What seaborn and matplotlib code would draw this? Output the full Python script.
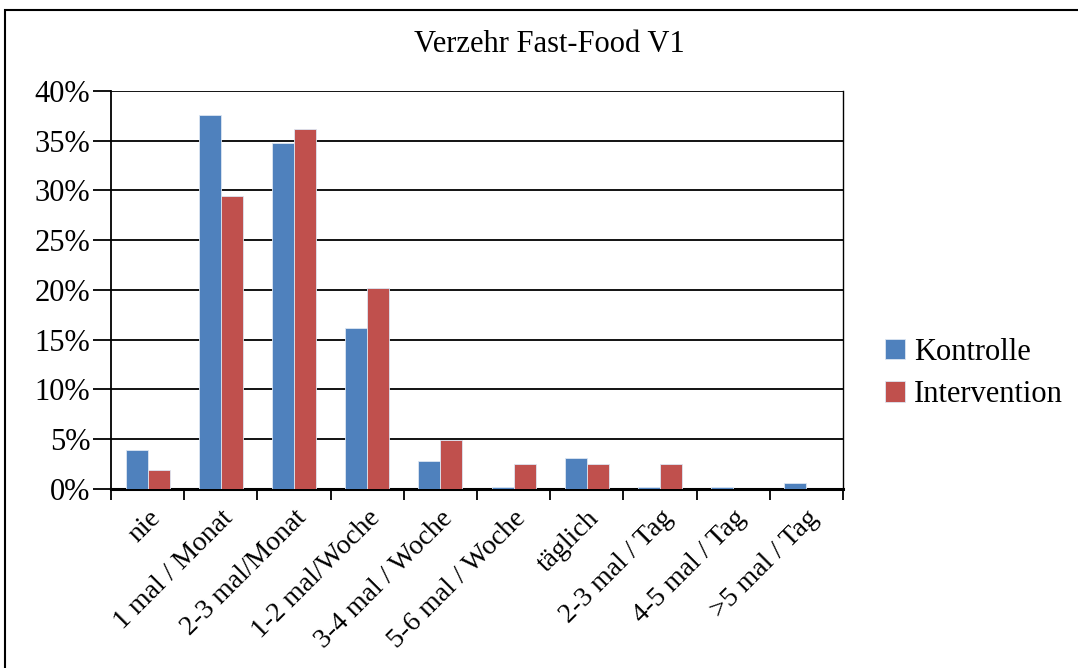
import numpy as np
import pandas as pd
import matplotlib
matplotlib.use('Agg')
import matplotlib.pyplot as plt
from matplotlib.patches import Rectangle
from matplotlib.ticker import FixedLocator
import seaborn as sns

# Daten (in %)
kategorien = ['nie', '1 mal / Monat', '2-3 mal/Monat', '1-2 mal/Woche', '3-4 mal / Woche',
              '5-6 mal / Woche', 'täglich', '2-3 mal / Tag', '4-5 mal / Tag', '>5 mal / Tag']
kontrolle = [3.9, 37.6, 34.8, 16.2, 2.8, 0.2, 3.1, 0.2, 0.2, 0.6]
intervention = [1.9, 29.4, 36.2, 20.2, 4.9, 2.5, 2.5, 2.5, 0.0, 0.0]
gruppen = ['Kontrolle', 'Intervention']
farben = ['#4F81BD', '#C0504D']

df = pd.DataFrame({'Kategorie': kategorien * 2,
                   'Gruppe': [gruppen[0]] * len(kategorien) + [gruppen[1]] * len(kategorien),
                   'Anteil': kontrolle + intervention})

sns.set_style('white')
plt.rcParams['font.family'] = ['Liberation Serif', 'DejaVu Serif']
plt.rcParams['text.color'] = 'black'
plt.rcParams['xtick.color'] = 'black'
plt.rcParams['ytick.color'] = 'black'

fig = plt.figure(figsize=(10.78, 6.68), dpi=100)
ax = fig.add_axes([0.103, 0.268, 0.679, 0.596])

sns.barplot(data=df, x='Kategorie', y='Anteil', hue='Gruppe', palette=farben,
            saturation=1, width=0.6, ax=ax, edgecolor='#dce6f2', linewidth=0.6, zorder=3)

ax.set_ylim(0, 40)
ax.set_xlim(-0.5, len(kategorien) - 0.5)
ax.set_yticks(range(0, 41, 5))
ax.set_yticklabels([f'{v}%' for v in range(0, 41, 5)], fontsize=22)
ax.yaxis.grid(True, color='black', linewidth=1.3, zorder=0)
ax.set_axisbelow(True)
ax.set_xlabel('')
ax.set_ylabel('')

ax.set_xticks(range(len(kategorien)))
ax.set_xticklabels(kategorien, rotation=45, ha='right', rotation_mode='anchor', fontsize=20)
ax.xaxis.set_minor_locator(FixedLocator(np.arange(-0.5, len(kategorien), 1)))
ax.tick_params(axis='x', which='major', length=0, pad=12, labelcolor='black')
ax.tick_params(axis='x', which='minor', length=8, width=1.3, color='black', bottom=True)
ax.tick_params(axis='y', length=13, width=1.3, color='black', left=True, pad=2, labelcolor='black')

for s in ['left', 'bottom', 'right']:
    ax.spines[s].set_visible(True)
    ax.spines[s].set_color('black')
ax.spines['left'].set_linewidth(1.3)
ax.spines['bottom'].set_linewidth(2.2)
ax.spines['right'].set_linewidth(1.0)
ax.spines['top'].set_visible(False)

fig.text(0.51, 1 - 45 / 668, 'Verzehr Fast-Food V1', fontsize=22, ha='center', va='center',
         color='black')

leg = ax.legend(title=None, frameon=False, fontsize=22, loc='center left',
                bbox_to_anchor=(1.057, 0.29), borderaxespad=0, borderpad=0,
                handlelength=0.65, handleheight=0.65, handletextpad=0.3, labelspacing=0.45)
for t in leg.get_texts():
    t.set_color('black')

# Rahmen um das Diagramm
fig.patches.append(Rectangle((0.005, -0.1), 1.2, 1.085, transform=fig.transFigure,
                             fill=False, edgecolor='black', linewidth=1.5))

plt.savefig('out.png', dpi=100)
